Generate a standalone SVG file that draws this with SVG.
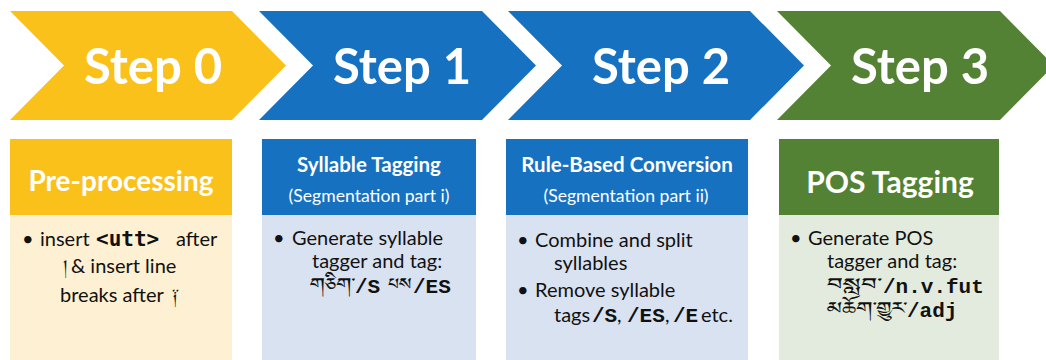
<svg xmlns="http://www.w3.org/2000/svg" width="1046" height="360" viewBox="0 0 1046 360">
<style>
.step{font-family:Lato,"Open Sans",sans-serif;font-weight:bold;font-size:49px;fill:#fff;text-anchor:middle}
.hd{font-family:Lato,"Open Sans",sans-serif;font-weight:bold;fill:#fff;text-anchor:middle}
.sub{font-family:Lato,"Open Sans",sans-serif;font-size:17.6px;fill:#fff;text-anchor:middle}
.bd{font-family:Lato,"Open Sans",sans-serif;font-size:20px;fill:#111}
.mono{font-family:"Liberation Mono","DejaVu Sans Mono",monospace;font-weight:bold;font-size:21px;fill:#111}
.cons{font-family:"DejaVu Sans Mono","Liberation Mono",monospace;font-weight:bold;font-size:21px;fill:#111}
.tib{font-family:"Noto Sans Tibetan","Jomolhari","Noto Serif Tibetan",serif;font-size:21px;fill:#111}
.yel{fill:#FBC11B}.blu{fill:#1771C1}.grn{fill:#548235}
.yelb{fill:#FEF0D2}.blub{fill:#D9E2F1}.grnb{fill:#E3EBDF}
</style>
<rect width="1046" height="360" fill="#fff"/>
<g id="step0">
<polygon class="yel" points="10,11 232,11 286,65.5 232,120 10,120 64,65.5"/>
<text class="step" x="153" y="84">Step 0</text>
</g>
<g id="step1">
<polygon class="blu" points="259,11 482,11 536,65.5 482,120 259,120 313,65.5"/>
<text class="step" x="402" y="84">Step 1</text>
</g>
<g id="step2">
<polygon class="blu" points="508,11 750,11 804,65.5 750,120 508,120 562,65.5"/>
<text class="step" x="661" y="84">Step 2</text>
</g>
<g id="step3">
<polygon class="grn" points="777,11 1000,11 1054,65.5 1000,120 777,120 831,65.5"/>
<text class="step" x="920" y="84">Step 3</text>
</g>
<g id="box0">
<rect class="yel" x="10" y="139" width="222" height="76"/>
<rect class="yelb" x="10" y="215" width="222" height="145"/>
<text class="hd" x="121" y="191" font-size="28">Pre-processing</text>
<text class="bd" x="22" y="246">•</text>
<text class="bd" x="40" y="246">insert</text>
<text class="cons" x="96" y="246">&lt;utt&gt;</text>
<text class="bd" x="176" y="246">after</text>
<text class="tib" x="63" y="276" font-size="24">།</text>
<text class="bd" x="71" y="273">&amp; insert line</text>
<text class="bd" x="60" y="302">breaks after</text>
<text class="tib" x="172" y="305" font-size="24">༑</text>
</g>
<g id="box1">
<rect class="blu" x="262" y="139" width="214" height="76"/>
<rect class="blub" x="262" y="215" width="214" height="145"/>
<text class="hd" x="369" y="172" font-size="20.5">Syllable Tagging</text>
<text class="sub" x="369" y="202">(Segmentation part i)</text>
<text class="bd" x="273" y="245">•</text>
<text class="bd" x="292" y="245">Generate syllable</text>
<text class="bd" x="312" y="268">tagger and tag:</text>
<text class="tib" x="310" y="294" textLength="45" lengthAdjust="spacingAndGlyphs">གཅིག་</text>
<text class="mono" x="355" y="293">/S</text>
<text class="tib" x="388" y="294" textLength="24" lengthAdjust="spacingAndGlyphs">པས</text>
<text class="mono" x="413" y="293">/ES</text>
</g>
<g id="box2">
<rect class="blu" x="506" y="139" width="242" height="76"/>
<rect class="blub" x="506" y="215" width="242" height="145"/>
<text class="hd" x="627" y="172" font-size="20.5">Rule-Based Conversion</text>
<text class="sub" x="626" y="202">(Segmentation part ii)</text>
<text class="bd" x="517" y="247">•</text>
<text class="bd" x="535" y="247">Combine and split</text>
<text class="bd" x="554" y="270">syllables</text>
<text class="bd" x="517" y="297">•</text>
<text class="bd" x="535" y="297">Remove syllable</text>
<text class="bd" x="554" y="322">tags</text>
<text class="mono" x="592" y="322">/S</text>
<text class="bd" x="617" y="322">,</text>
<text class="mono" x="627" y="322">/ES</text>
<text class="bd" x="665" y="322">,</text>
<text class="mono" x="673" y="322">/E</text>
<text class="bd" x="701" y="322">etc.</text>
</g>
<g id="box3">
<rect class="grn" x="779" y="139" width="220" height="76"/>
<rect class="grnb" x="779" y="215" width="220" height="145"/>
<text class="hd" x="890" y="193" font-size="30">POS Tagging</text>
<text class="bd" x="790" y="245">•</text>
<text class="bd" x="808" y="245">Generate POS</text>
<text class="bd" x="827" y="268">tagger and tag:</text>
<text class="tib" x="827" y="294" textLength="55" lengthAdjust="spacingAndGlyphs">བསླབ་</text>
<text class="mono" x="883" y="293">/n.v.fut</text>
<text class="tib" x="827" y="318" textLength="80" lengthAdjust="spacingAndGlyphs">མཆོག་གྱུར་</text>
<text class="mono" x="907" y="317">/adj</text>
</g>
</svg>
